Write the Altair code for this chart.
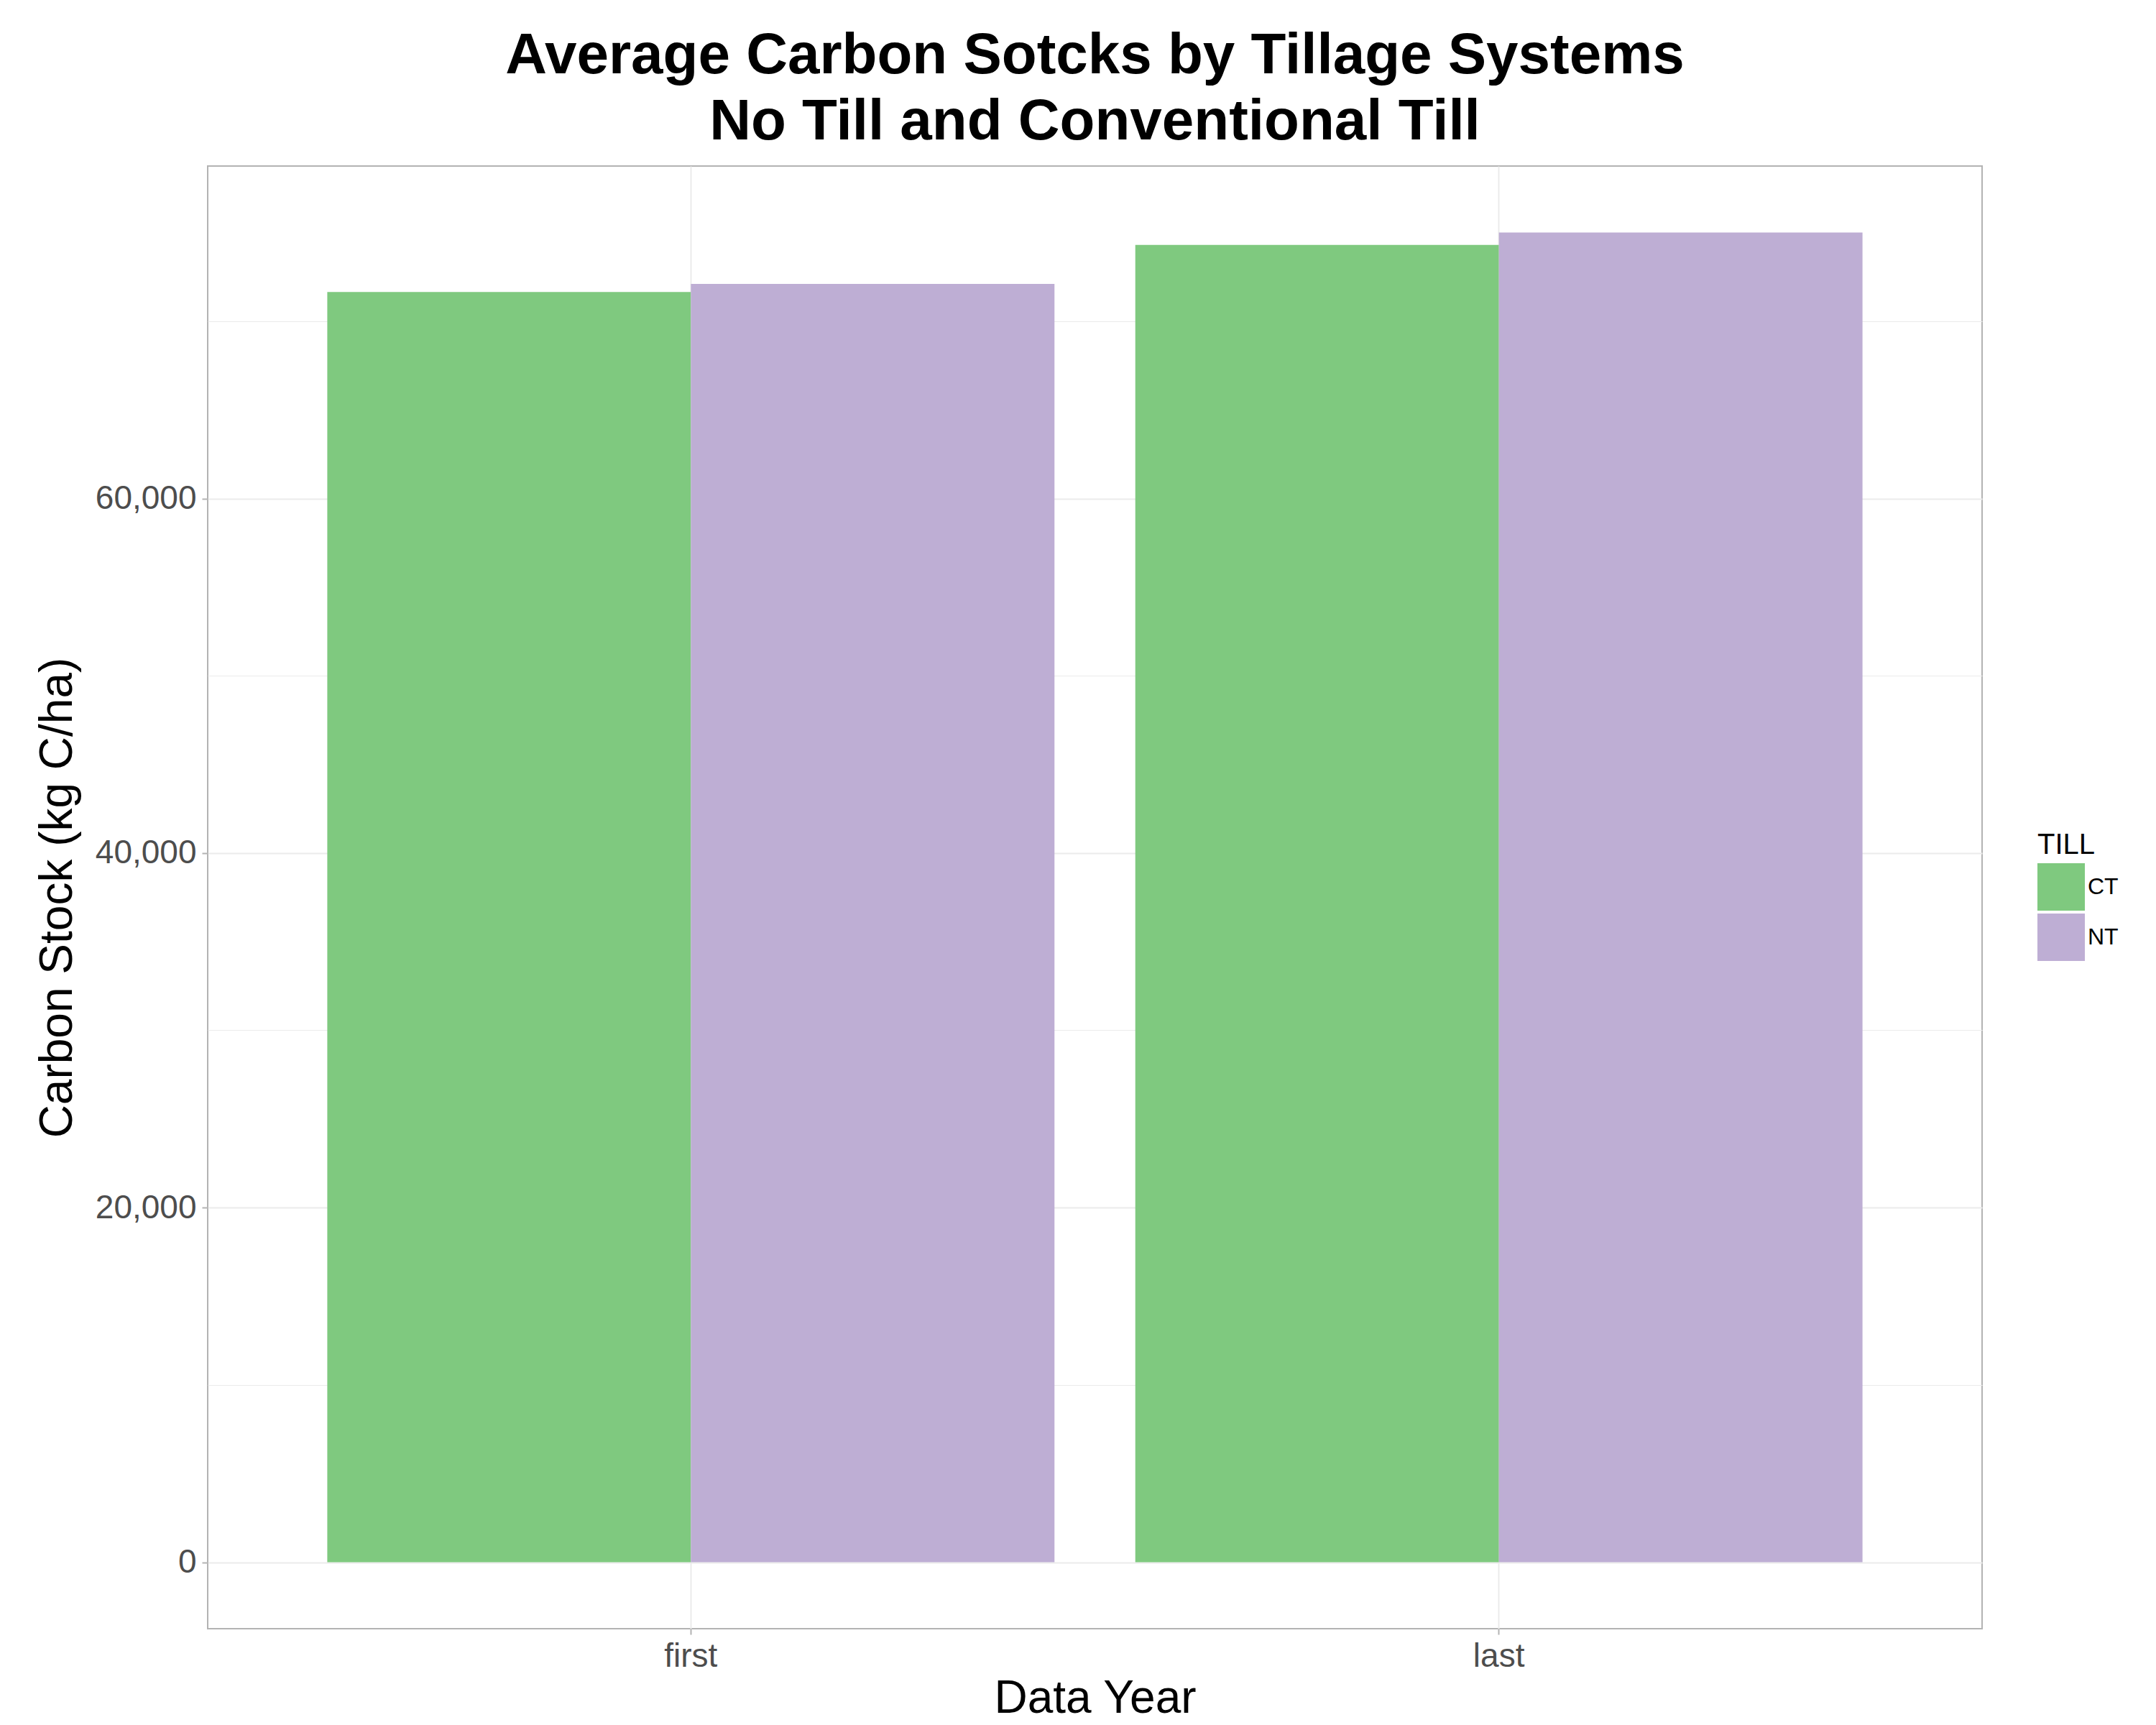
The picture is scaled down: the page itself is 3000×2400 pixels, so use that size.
import altair as alt
import pandas as pd

years = ["first", "first", "last", "last"]
tills = ["CT", "NT", "CT", "NT"]
stocks = [71650, 72100, 74300, 75000]

df = pd.DataFrame({"year": years, "TILL": tills, "stock": stocks})

grid_vals = list(range(0, 80000, 10000))

chart = alt.Chart(df).mark_bar().encode(
    x=alt.X("year:N", title="Data Year",
            scale=alt.Scale(paddingInner=0.1, paddingOuter=0.148),
            axis=alt.Axis(labelAngle=0, bandPosition=0.5, grid=True, gridColor="#ebebeb",
                          gridWidth=2, tickColor="#b3b3b3", tickSize=8, tickWidth=2,
                          labelFontSize=46, labelColor="#4d4d4d", titleFontSize=64,
                          titleFontWeight="normal", labelPadding=8, domain=False)),
    xOffset=alt.XOffset("TILL:N"),
    y=alt.Y("stock:Q", title="Carbon Stock (kg C/ha)",
            scale=alt.Scale(domain=[-3750, 78750], nice=False, zero=False),
            axis=alt.Axis(values=grid_vals,
                          labelExpr="datum.value % 20000 == 0 ? format(datum.value, ',') : ''",
                          gridColor="#ebebeb",
                          gridWidth={"condition": {"test": "datum.value % 20000 == 0", "value": 2}, "value": 1.2},
                          tickColor={"condition": {"test": "datum.value % 20000 == 0", "value": "#b3b3b3"}, "value": "transparent"},
                          tickSize=8, tickWidth=2,
                          labelFontSize=46, labelColor="#4d4d4d", titleFontSize=64,
                          titleFontWeight="normal", labelPadding=8, titlePadding=20, domain=False)),
    color=alt.Color("TILL:N", scale=alt.Scale(domain=["CT", "NT"], range=["#7FC97F", "#BEAED4"]),
                    legend=alt.Legend(title="TILL", titleFontSize=40, titleFontWeight="normal",
                                      labelFontSize=32, symbolType="square", symbolSize=4356,
                                      symbolStrokeWidth=0, rowPadding=4,
                                      orient="none", legendX=2546, legendY=925)),
).properties(
    width=2469, height=2035,
    padding={"left": 40, "top": 30, "right": 10, "bottom": 10},
    title=alt.TitleParams(["Average Carbon Sotcks by Tillage Systems", "No Till and Conventional Till"],
                          fontSize=80, fontWeight="bold", anchor="middle", lineHeight=92, offset=20),
).configure(font="Liberation Sans").configure_view(stroke="#b3b3b3", strokeWidth=2)

chart.save("out.html", embed_options={"renderer": "svg", "actions": False})
